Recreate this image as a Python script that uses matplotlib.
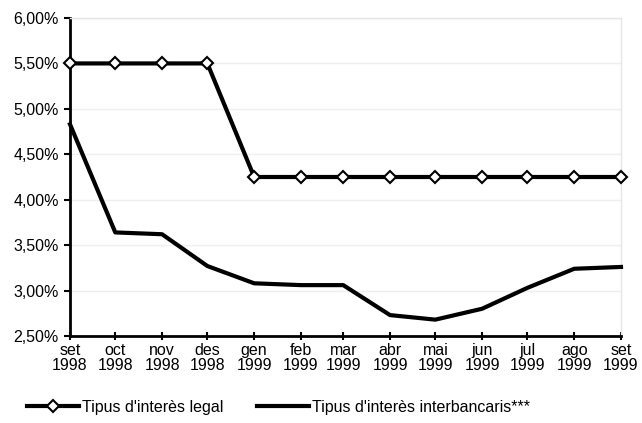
import numpy as np
import pandas as pd
import matplotlib.pyplot as plt
from matplotlib.ticker import FuncFormatter

plt.rcParams['font.family'] = ['Liberation Sans Narrow', 'Liberation Sans', 'DejaVu Sans']

months = pd.date_range("1998-09-01", "1999-09-01", freq="MS")
month_labels = ["set\n1998", "oct\n1998", "nov\n1998", "des\n1998", "gen\n1999",
                "feb\n1999", "mar\n1999", "abr\n1999", "mai\n1999", "jun\n1999",
                "jul\n1999", "ago\n1999", "set\n1999"]
legal = [5.50, 5.50, 5.50, 5.50, 4.25, 4.25, 4.25, 4.25, 4.25, 4.25, 4.25, 4.25, 4.25]
interbank = [4.83, 3.64, 3.62, 3.27, 3.08, 3.06, 3.06, 2.73, 2.68, 2.80, 3.03, 3.24, 3.26]

fig = plt.figure(figsize=(6.42, 4.23), dpi=100)
ax = fig.add_axes([70 / 642, 1 - 336 / 423, 551 / 642, 318 / 423])

ax.plot(months, legal, color="black", lw=3, marker="D", markersize=6.5,
        markerfacecolor="white", markeredgecolor="black", markeredgewidth=1.5,
        label="Tipus d'interès legal", clip_on=False, zorder=4)
ax.plot(months, interbank, color="black", lw=3,
        label="Tipus d'interès interbancaris***", clip_on=False, zorder=3)

ax.set_xlim(months[0], months[-1])
ax.set_ylim(2.5, 6.0)
ax.set_yticks(np.arange(2.5, 6.01, 0.5))
ax.yaxis.set_major_formatter(FuncFormatter(lambda v, p: f"{v:.2f}%".replace(".", ",")))
ax.set_xticks(months)
ax.set_xticklabels(month_labels, linespacing=1.0)

ax.grid(axis="y", color="#efefef", lw=1)
ax.set_axisbelow(True)
for side in ["top", "right"]:
    ax.spines[side].set_color("#e6e6e6")
    ax.spines[side].set_linewidth(1)
for side in ["left", "bottom"]:
    ax.spines[side].set_color("black")
    ax.spines[side].set_linewidth(2)
ax.tick_params(axis="both", colors="black", labelsize=11.5, width=1.5, length=4)
ax.tick_params(axis="x", direction="inout", length=6, pad=2)
ax.tick_params(axis="y", pad=4)

fig.legend(loc="lower left", bbox_to_anchor=(0.02, -0.015), ncol=2, frameon=False,
           fontsize=11.5, handlelength=3.25, columnspacing=2.1, handletextpad=0.2)

fig.savefig("out.png", dpi=100)
